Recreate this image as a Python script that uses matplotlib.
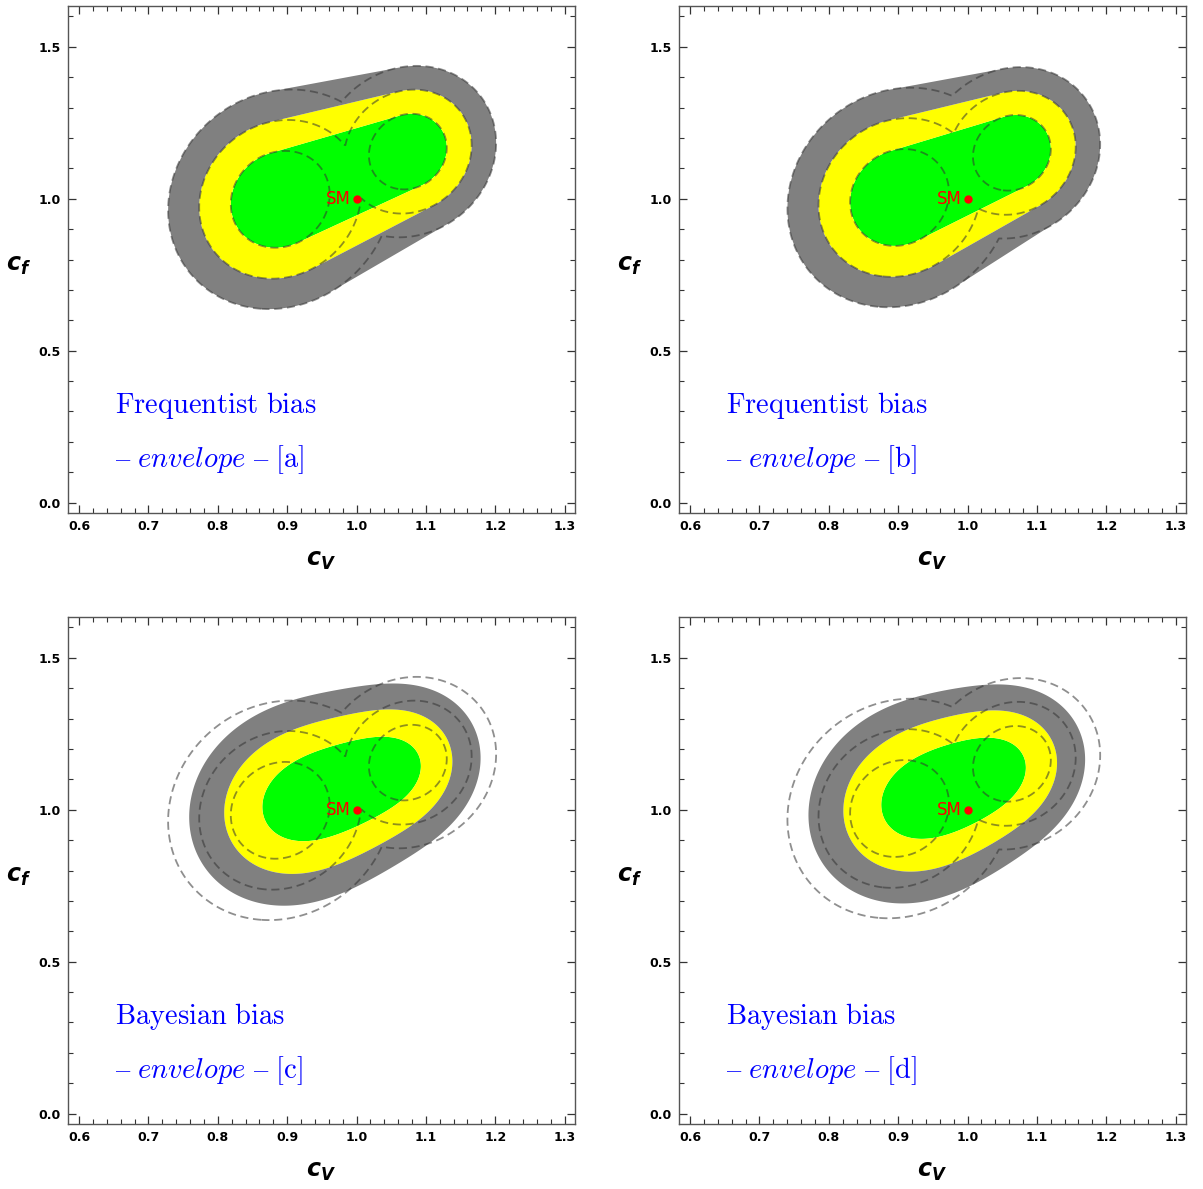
import numpy as np
import matplotlib
matplotlib.use("Agg")
import matplotlib.pyplot as plt
from matplotlib.ticker import MultipleLocator

# endpoints of the bias for the two fits (cV, cf): low end / high end
low_centre_a = [0.890, 0.998]
high_centre_a = [1.074, 1.155]
low_centre_b = [0.902, 1.004]
high_centre_b = [1.064, 1.151]
# gaussian widths (sigma_V, sigma_f) at each end, and the correlation
low_width = [0.047, 0.105]
high_width = [0.037, 0.082]
corr = 0.1
# delta chi2 for 68.3 / 95.4 / 99.7 % in 2d
cl_levels = [2.30, 6.18, 11.83]
sm_point = [1.0, 1.0]

panel_tags = ["a", "b", "c", "d"]
panel_method = ["Frequentist", "Frequentist", "Bayesian", "Bayesian"]
panel_centres = [
    (low_centre_a, high_centre_a),
    (low_centre_b, high_centre_b),
    (low_centre_a, high_centre_a),
    (low_centre_b, high_centre_b),
]

fill_colors = ["#00ff00", "#ffff00", "#808080"]

xlim = (0.584, 1.315)
ylim = (-0.034, 1.634)

gx = np.linspace(xlim[0], xlim[1], 500)
gy = np.linspace(ylim[0], ylim[1], 500)
X, Y = np.meshgrid(gx, gy)


def chi2(c, s):
    dx = (X - c[0]) / s[0]
    dy = (Y - c[1]) / s[1]
    return (dx * dx - 2 * corr * dx * dy + dy * dy) / (1 - corr ** 2)


def bias_scan(c0, c1, method):
    ts = np.linspace(0, 1, 241)
    if method == "Frequentist":
        out = np.full(X.shape, np.inf)
        for t in ts:
            c = [c0[i] + t * (c1[i] - c0[i]) for i in range(2)]
            s = [low_width[i] + t * (high_width[i] - low_width[i]) for i in range(2)]
            out = np.minimum(out, chi2(c, s))
        return out
    # flat prior on the bias, marginalised
    like = np.zeros(X.shape)
    for t in ts:
        c = [c0[i] + t * (c1[i] - c0[i]) for i in range(2)]
        s = [low_width[i] + t * (high_width[i] - low_width[i]) for i in range(2)]
        like += np.exp(-0.5 * chi2(c, s))
    return -2 * np.log(like / like.max())


fig = plt.figure(figsize=(12.03, 11.89), dpi=100)
W, H = 1203, 1189
boxes = [(68, 6), (679, 6), (68, 617), (679, 617)]

for k, tag in enumerate(panel_tags):
    left, top = boxes[k]
    ax = fig.add_axes([left / W, (H - top - 507) / H, 507 / W, 507 / H])
    c0, c1 = panel_centres[k]
    method = panel_method[k]

    z = bias_scan(c0, c1, method)
    ax.contourf(X, Y, z, levels=[-1] + cl_levels, colors=fill_colors, antialiased=True)

    zc = np.minimum(chi2(c0, low_width), chi2(c1, high_width))
    ax.contour(X, Y, zc, levels=cl_levels, colors="#333333", alpha=0.55,
               linewidths=1.3, linestyles=[(0, (4.5, 2.6))])

    ax.plot(sm_point[0], sm_point[1], "o", color="red", ms=5, zorder=5)
    ax.text(sm_point[0] - 0.009, sm_point[1], "SM", color="red", fontsize=12,
            ha="right", va="center", zorder=5)

    ax.text(0.652, 0.321, r"$\mathrm{%s\ bias}$" % method, color="blue",
            fontsize=20.5, math_fontfamily="cm", va="center", ha="left")
    ax.text(0.652, 0.142, r"$\mathrm{–}\ \mathit{envelope}\ \mathrm{–}\ [\mathrm{%s}]$" % tag,
            color="blue", fontsize=20.5, math_fontfamily="cm", va="center", ha="left")

    ax.set_xlim(*xlim)
    ax.set_ylim(*ylim)
    ax.xaxis.set_major_locator(MultipleLocator(0.1))
    ax.xaxis.set_minor_locator(MultipleLocator(0.02))
    ax.yaxis.set_major_locator(MultipleLocator(0.5))
    ax.yaxis.set_minor_locator(MultipleLocator(0.1))
    ax.tick_params(which="both", direction="in", top=True, right=True, color="#333333")
    ax.tick_params(which="major", length=6, width=0.9, labelsize=9, pad=5)
    ax.tick_params(which="minor", length=3.5, width=0.8)
    for lab in ax.get_xticklabels() + ax.get_yticklabels():
        lab.set_fontweight("bold")
    for sp in ax.spines.values():
        sp.set_color("#555555")
        sp.set_linewidth(1.0)

    ax.set_xlabel(r"$\mathbfit{c}_{\mathbfit{V}}$", fontsize=17, math_fontfamily="dejavusans")
    ax.xaxis.set_label_coords(0.5, -0.07)
    ax.set_ylabel(r"$\mathbfit{c}_{\mathbfit{f}}$", fontsize=17, math_fontfamily="dejavusans",
                  rotation=0, ha="center", va="center")
    ax.yaxis.set_label_coords(-0.097, 0.49)

fig.savefig("out.png", dpi=100)
